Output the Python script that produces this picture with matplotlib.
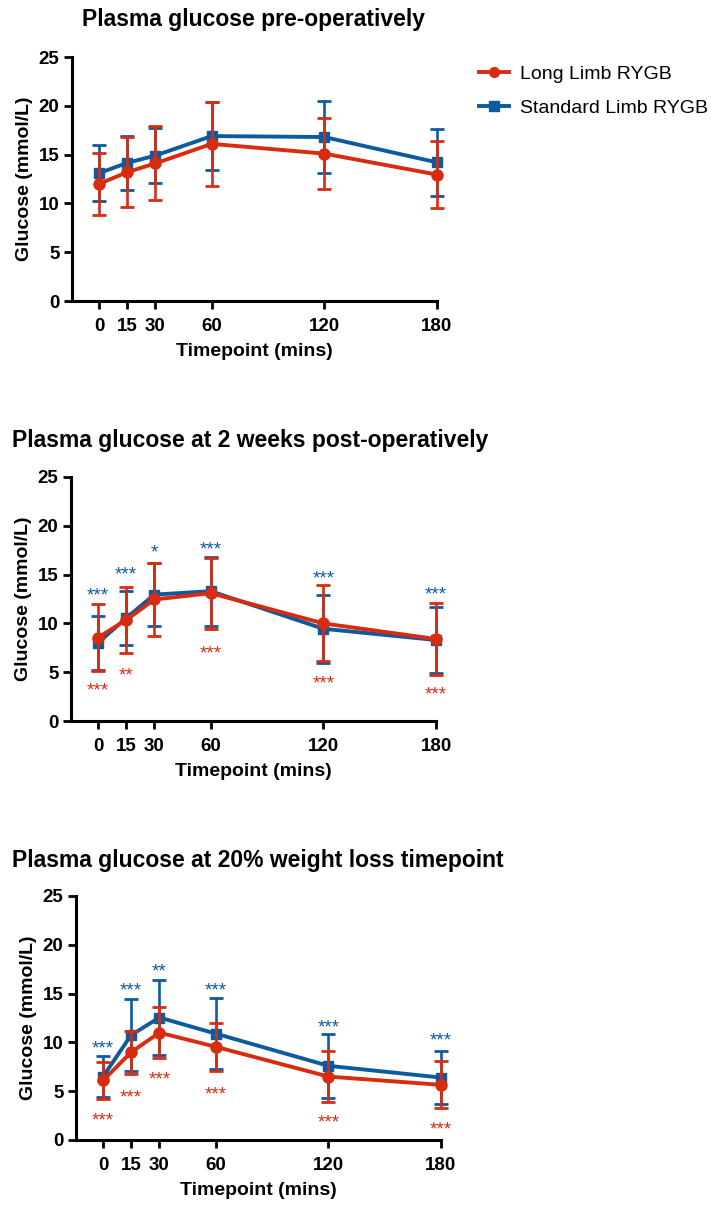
import matplotlib.pyplot as plt
from matplotlib.lines import Line2D
import numpy as np

plt.rcParams['font.family'] = ['Liberation Sans', 'DejaVu Sans']

RED = '#d82c10'
BLUE = '#0d5a9e'

timepoints = [0, 15, 30, 60, 120, 180]

# pre-operative
pre_long = [12.0, 13.2, 14.1, 16.1, 15.1, 12.95]
pre_long_sd = [3.2, 3.6, 3.8, 4.3, 3.6, 3.4]
pre_std = [13.1, 14.15, 14.9, 16.9, 16.8, 14.2]
pre_std_sd = [2.9, 2.75, 2.85, 3.5, 3.7, 3.45]

# 2 weeks post-op
wk2_long = [8.55, 10.35, 12.45, 13.1, 10.0, 8.4]
wk2_long_sd = [3.45, 3.4, 3.75, 3.65, 3.9, 3.65]
wk2_std = [8.0, 10.55, 12.95, 13.3, 9.45, 8.3]
wk2_std_sd = [2.8, 2.75, 3.2, 3.55, 3.5, 3.4]
wk2_std_sig = ['***', '***', '*', '***', '***', '***']
wk2_std_sig_y = [13.5, 15.6, 17.9, 18.2, 15.2, 13.6]
wk2_long_sig = ['***', '**', '', '***', '***', '***']
wk2_long_sig_y = [3.75, 5.3, 0, 7.5, 4.5, 3.3]

# 20% weight loss
wl_long = [6.1, 9.0, 11.0, 9.55, 6.5, 5.65]
wl_long_sd = [1.85, 2.2, 2.6, 2.45, 2.65, 2.4]
wl_std = [6.5, 10.75, 12.55, 10.9, 7.6, 6.4]
wl_std_sd = [2.1, 3.7, 3.8, 3.65, 3.3, 2.75]
wl_std_sig = ['***', '***', '**', '***', '***', '***']
wl_std_sig_y = [10.05, 15.9, 17.85, 15.9, 12.2, 10.8]
wl_long_sig = ['***', '***', '***', '***', '***', '***']
wl_long_sig_y = [2.65, 5.0, 6.85, 5.25, 2.4, 1.7]

panels = [
    ("Plasma glucose pre-operatively", pre_long, pre_long_sd, pre_std, pre_std_sd, None, None, None, None),
    ("Plasma glucose at 2 weeks post-operatively", wk2_long, wk2_long_sd, wk2_std, wk2_std_sd,
     wk2_long_sig, wk2_long_sig_y, wk2_std_sig, wk2_std_sig_y),
    ("Plasma glucose at 20% weight loss timepoint", wl_long, wl_long_sd, wl_std, wl_std_sd,
     wl_long_sig, wl_long_sig_y, wl_std_sig, wl_std_sig_y),
]

W, H = 711, 1205
fig = plt.figure(figsize=(W / 100, H / 100), dpi=100)

# axes boxes in pixels: left, top, right, bottom
boxes = [(72, 57, 437, 301), (71, 477, 436, 721), (76, 896, 441, 1140)]
title_pos = [(82, 26), (12, 447), (12, 867)]


def draw_series(ax, y, err, color, marker, ms, z):
    eb = ax.errorbar(timepoints, y, yerr=err, color=color, marker=marker, ms=ms, lw=2.8,
                     elinewidth=1.9, capsize=5, capthick=2, zorder=z)
    for art in eb.get_children():
        art.set_clip_on(False)


for i, (title, lm, ls, sm, ss, lsig, lsig_y, ssig, ssig_y) in enumerate(panels):
    l, t, r, b = boxes[i]
    ax = fig.add_axes([l / W, 1 - b / H, (r - l) / W, (b - t) / H])

    draw_series(ax, sm, ss, BLUE, 's', 7.5, 3)
    draw_series(ax, lm, ls, RED, 'o', 8, 4)

    if ssig is not None:
        for x, s, y in zip(timepoints, ssig, ssig_y):
            ax.annotate(s, (x, y), xytext=(0, -8), textcoords='offset points',
                        ha='center', va='baseline', color=BLUE, fontsize=13.5)
        for x, s, y in zip(timepoints, lsig, lsig_y):
            if s:
                ax.annotate(s, (x, y), xytext=(0, -8), textcoords='offset points',
                            ha='center', va='baseline', color=RED, fontsize=13.5)

    ax.set_xlim(-14.4, 180)
    ax.set_ylim(0, 25)
    ax.set_xticks(timepoints)
    ax.set_yticks([0, 5, 10, 15, 20, 25])
    for sp in ['top', 'right']:
        ax.spines[sp].set_visible(False)
    for sp in ['left', 'bottom']:
        ax.spines[sp].set_linewidth(2.2)
    ax.tick_params(axis='both', width=2, length=6, labelsize=13.5, pad=3)
    ax.tick_params(axis='x', pad=6)
    for lab in ax.get_xticklabels() + ax.get_yticklabels():
        lab.set_fontweight('bold')
    ax.set_xlabel('Timepoint (mins)', fontsize=14, fontweight='bold', labelpad=6)
    ax.set_ylabel('Glucose (mmol/L)', fontsize=14, fontweight='bold', labelpad=4)
    ax.patch.set_visible(False)

    tx, ty = title_pos[i]
    fig.text(tx / W, 1 - ty / H, title, fontsize=16.5, fontweight='bold', ha='left', va='baseline')

handles = [Line2D([], [], color=RED, marker='o', ms=7, lw=2.8),
           Line2D([], [], color=BLUE, marker='s', ms=6.5, lw=2.8)]
fig.legend(handles, ['Long Limb RYGB', 'Standard Limb RYGB'], loc='upper left',
           bbox_to_anchor=(479 / W, 1 - 65 / H), frameon=False, fontsize=14,
           handlelength=1.55, handletextpad=0.55, labelspacing=0.85,
           borderpad=0, borderaxespad=0)

fig.savefig('out.png', dpi=100)
